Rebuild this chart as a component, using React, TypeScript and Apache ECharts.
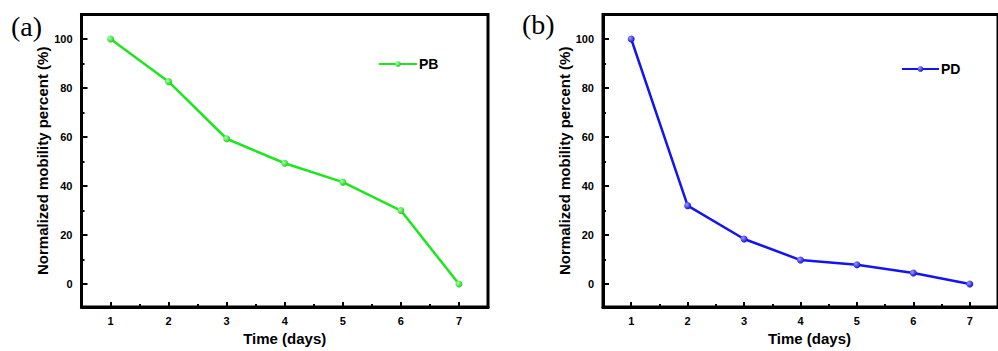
import React, { useEffect, useRef } from "react";
import * as echarts from "echarts";

const days = [1, 2, 3, 4, 5, 6, 7];
const pbValues = [100, 82.6, 59.3, 49.3, 41.6, 30, 0];
const pdValues = [100, 32, 18.4, 9.8, 7.9, 4.5, 0];
const yTickLabels = [0, 20, 40, 60, 80, 100];
const xName = "Time (days)";
const yName = "Normalized mobility percent (%)";
const panelLabels = ["(a)", "(b)"];

const FONT = "Arial, 'Liberation Sans', Helvetica, sans-serif";

function sphere(light: string, dark: string) {
  return new echarts.graphic.RadialGradient(0.35, 0.35, 0.7, [
    { offset: 0, color: light },
    { offset: 1, color: dark },
  ]);
}

export default function App() {
  const ref = useRef<HTMLDivElement>(null);
  useEffect(() => {
    if (!ref.current) return;
    const chart = echarts.init(ref.current, null, { renderer: "svg" });

    const yLabelFmt = (v: number) =>
      yTickLabels.indexOf(Math.round(v * 1000) / 1000) >= 0 ? String(Math.round(v)) : "";
    const xLabelFmt = (v: number) =>
      days.indexOf(Math.round(v * 1000) / 1000) >= 0 ? String(Math.round(v)) : "";

    const mkX = (gridIndex: number, major: boolean, padLeft: number) => ({
      type: "value",
      gridIndex,
      min: 0.5,
      max: 7.5,
      splitNumber: major ? 7 : 14,
      position: "bottom",
      name: major ? xName : "",
      nameLocation: "middle",
      nameGap: 20,
      nameTextStyle: {
        fontFamily: FONT,
        fontWeight: "bold",
        fontSize: 15,
        color: "#000",
        padding: [0, 0, 0, padLeft],
      },
      axisLine: { show: major, onZero: false, lineStyle: { color: "#000", width: 3 } },
      axisTick: {
        show: true,
        inside: true,
        length: major ? 5 : 3,
        lineStyle: { color: "#000", width: 2 },
      },
      axisLabel: {
        show: major,
        formatter: xLabelFmt,
        margin: 8,
        fontFamily: FONT,
        fontWeight: "bold",
        fontSize: 11,
        color: "#000",
        showMinLabel: false,
        showMaxLabel: false,
      },
      splitLine: { show: false },
    });

    const mkY = (gridIndex: number, major: boolean, gap: number) => ({
      type: "value",
      gridIndex,
      min: -9.4,
      max: 110,
      splitNumber: major ? 6 : 12,
      position: "left",
      name: major ? yName : "",
      nameLocation: "middle",
      nameGap: gap,
      nameTextStyle: {
        fontFamily: FONT,
        fontWeight: "bold",
        fontSize: 15,
        color: "#000",
      },
      axisLine: { show: major, onZero: false, lineStyle: { color: "#000", width: 3 } },
      axisTick: {
        show: true,
        inside: true,
        length: major ? 6 : 3,
        lineStyle: { color: "#000", width: 2 },
      },
      axisLabel: {
        show: major,
        formatter: yLabelFmt,
        margin: 9,
        fontFamily: FONT,
        fontWeight: "bold",
        fontSize: 11,
        color: "#000",
        showMinLabel: false,
        showMaxLabel: false,
      },
      splitLine: { show: false },
    });

    const toPairs = (vals: number[]) => days.map((d, i) => [d, vals[i]]);

    chart.setOption({
      animation: false,
      backgroundColor: "#fff",
      grid: [
        {
          left: 81.5,
          top: 14.5,
          width: 406.5,
          height: 298,
          show: true,
          borderColor: "#000",
          borderWidth: 3,
          containLabel: false,
        },
        {
          left: 603,
          top: 14.5,
          width: 407,
          height: 298.5,
          show: true,
          borderColor: "#000",
          borderWidth: 3,
          containLabel: false,
        },
      ],
      xAxis: [mkX(0, true, 0), mkX(0, false, 0), mkX(1, true, 18), mkX(1, false, 0)],
      yAxis: [mkY(0, true, 27), mkY(0, false, 0), mkY(1, true, 28), mkY(1, false, 0)],
      legend: [
        {
          data: ["PB"],
          left: 373,
          top: 52,
          itemWidth: 38,
          itemHeight: 7,
          textStyle: { fontFamily: FONT, fontWeight: "bold", fontSize: 14, color: "#000", padding: [0, 0, 0, -3] },
        },
        {
          data: ["PD"],
          left: 896,
          top: 57,
          itemWidth: 37,
          itemHeight: 7,
          textStyle: { fontFamily: FONT, fontWeight: "bold", fontSize: 14, color: "#000", padding: [0, 0, 0, -3] },
        },
      ],
      series: [
        {
          name: "PB",
          type: "line",
          xAxisIndex: 0,
          yAxisIndex: 0,
          data: toPairs(pbValues),
          symbol: "circle",
          symbolSize: 7,
          lineStyle: { color: "#1ee61e", width: 2.5 },
          itemStyle: { color: sphere("#a8ffa8", "#14d214"), borderWidth: 0 },
        },
        {
          name: "PD",
          type: "line",
          xAxisIndex: 2,
          yAxisIndex: 2,
          data: toPairs(pdValues),
          symbol: "circle",
          symbolSize: 7,
          lineStyle: { color: "#1414f0", width: 2.5 },
          itemStyle: { color: sphere("#9a9aff", "#0a0ae0"), borderWidth: 0 },
        },
      ],
      graphic: [
        {
          type: "text",
          left: 11,
          top: 12,
          style: { text: panelLabels[0], fontFamily: "'Liberation Serif', 'Times New Roman', serif", fontSize: 28, fill: "#000" },
        },
        {
          type: "text",
          left: 522,
          top: 10,
          style: { text: panelLabels[1], fontFamily: "'Liberation Serif', 'Times New Roman', serif", fontSize: 28, fill: "#000" },
        },
      ],
    });
    return () => chart.dispose();
  }, []);
  return (
    <div
      ref={ref}
      style={{ position: "fixed", left: 0, top: 0, width: 998, height: 351, background: "#fff" }}
    />
  );
}
